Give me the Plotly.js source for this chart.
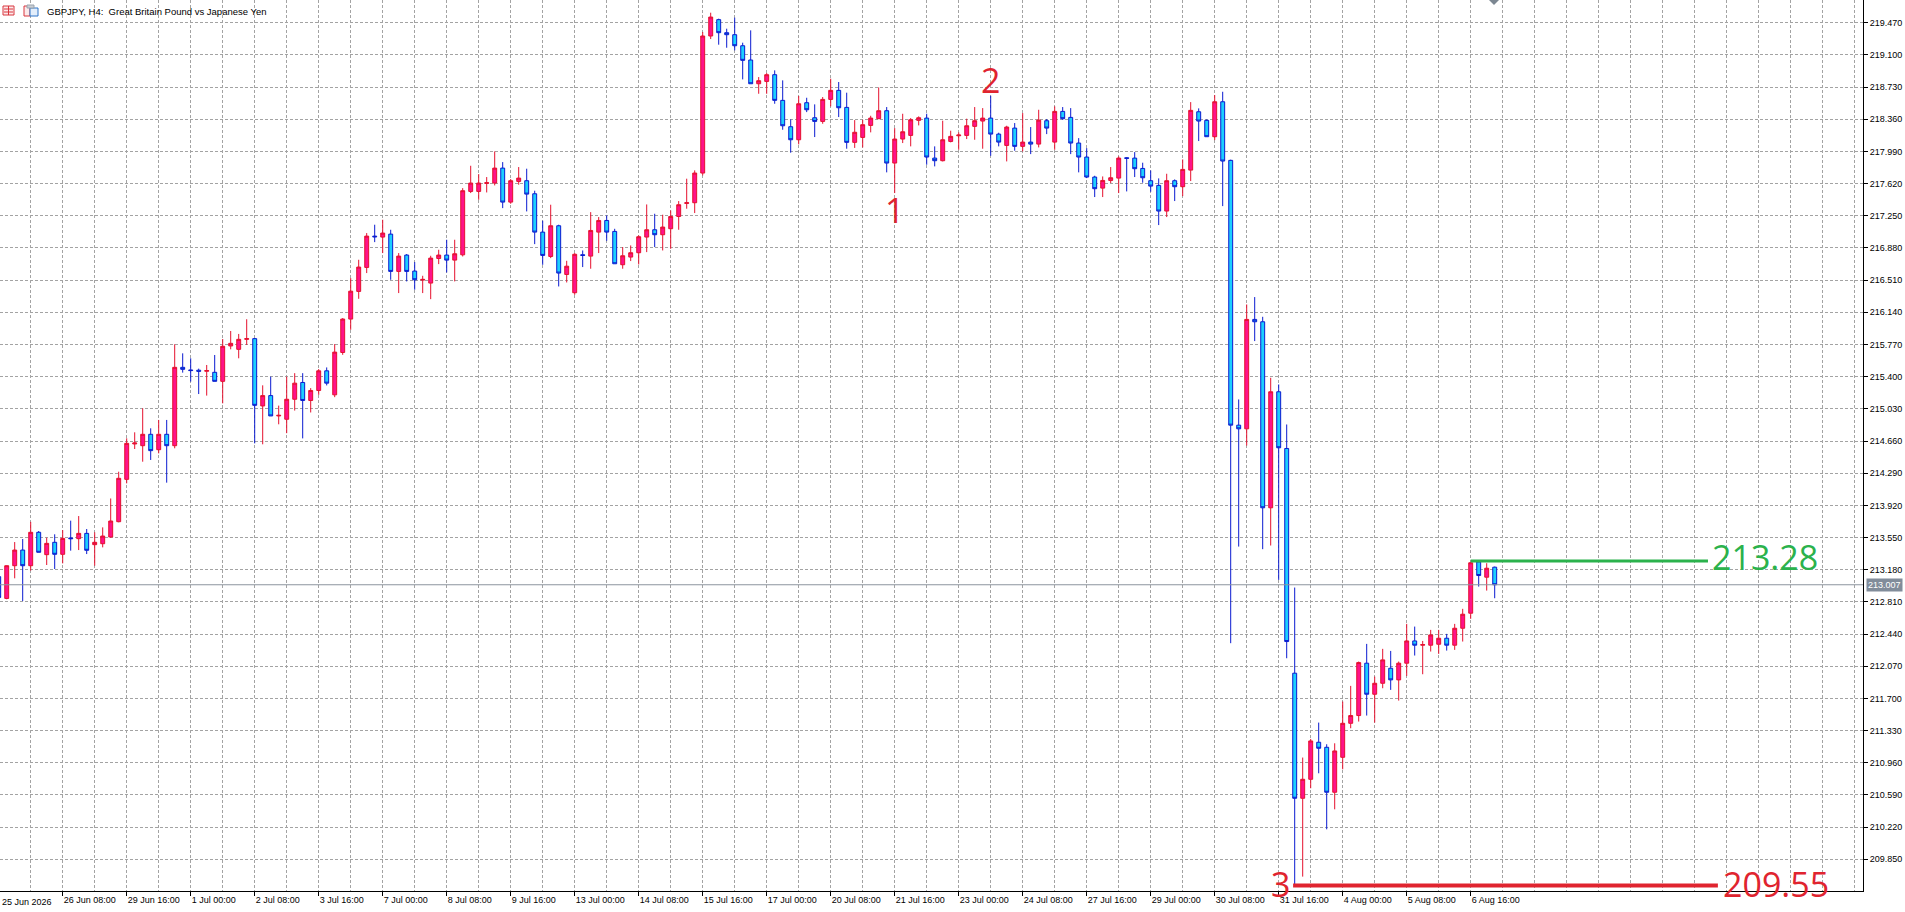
<!DOCTYPE html>
<html>
<head>
<meta charset="utf-8">
<title>GBPJPY H4</title>
<script src="https://cdn.plot.ly/plotly-3.0.1.min.js"></script>
<style>
  html, body { margin: 0; padding: 0; background: #fff; }
  #chart { width: 1905px; height: 912px; }
</style>
</head>
<body>
<div id="chart"></div>
<script>
// GBPJPY H4 bars, 25 Jun 2026 00:00 .. 7 Aug 2026 04:00 (one value per bar)
var symbolTitle = "GBPJPY, H4:  Great Britain Pound vs Japanese Yen";

// time scale labels, one every 8 bars
var timeLabels = ["25 Jun 2026", "26 Jun 08:00", "29 Jun 16:00", "1 Jul 00:00", "2 Jul 08:00",
  "3 Jul 16:00", "7 Jul 00:00", "8 Jul 08:00", "9 Jul 16:00", "13 Jul 00:00", "14 Jul 08:00",
  "15 Jul 16:00", "17 Jul 00:00", "20 Jul 08:00", "21 Jul 16:00", "23 Jul 00:00", "24 Jul 08:00",
  "27 Jul 16:00", "29 Jul 00:00", "30 Jul 08:00", "31 Jul 16:00", "4 Aug 00:00", "5 Aug 08:00",
  "6 Aug 16:00"];

var priceTicks = [209.85, 210.22, 210.59, 210.96, 211.33, 211.70, 212.07, 212.44, 212.81, 213.18,
  213.55, 213.92, 214.29, 214.66, 215.03, 215.40, 215.77, 216.14, 216.51, 216.88, 217.25, 217.62,
  217.99, 218.36, 218.73, 219.10, 219.47];

var openP = [
  213.10, 212.85, 213.226, 213.406, 213.226, 213.61, 213.353, 213.495, 213.357, 213.545,
  213.537, 213.598, 213.468, 213.479, 213.556, 213.732, 214.219, 214.626, 214.606, 214.737,
  214.56, 214.737, 214.606, 215.507, 215.477, 215.474, 215.462, 215.45, 215.346, 215.753,
  215.714, 215.829, 215.837, 215.063, 215.182, 214.948, 214.91, 215.14, 215.333, 215.126,
  215.241, 215.467, 215.191, 215.678, 216.062, 216.38, 216.656, 217.016, 217.005, 217.039,
  216.61, 216.798, 216.614, 216.51, 216.476, 216.759, 216.798, 216.74, 216.801, 217.53,
  217.53, 217.622, 217.626, 217.798, 217.407, 217.645, 217.653, 217.503, 217.062, 216.782,
  217.135, 216.575, 216.365, 216.802, 216.786, 217.062, 217.196, 217.07, 216.687, 216.775,
  216.825, 217.005, 217.089, 217.032, 217.101, 217.242, 217.392, 217.4, 217.741, 219.317,
  219.505, 219.355, 219.332, 219.205, 219.041, 218.768, 218.795, 218.872, 218.577, 218.274,
  218.124, 218.55, 218.377, 218.335, 218.588, 218.692, 218.496, 218.094, 218.151, 218.289,
  218.366, 218.458, 217.856, 218.132, 218.174, 218.347, 218.373, 217.913, 217.883, 218.105,
  218.17, 218.174, 218.278, 218.339, 218.373, 218.189, 218.059, 218.258, 218.048, 218.097,
  218.074, 218.343, 218.097, 218.45, 218.381, 218.086, 217.925, 217.695, 217.568, 217.656,
  217.683, 217.917, 217.913, 217.794, 217.653, 217.599, 217.304, 217.653, 217.584, 217.775,
  218.446, 218.347, 218.159, 218.561, 217.887, 214.842, 214.8, 216.058, 216.031, 213.892,
  215.226, 214.574, 211.99, 210.552, 210.77, 211.196, 211.138, 210.621, 211.023, 211.414,
  211.503, 212.105, 211.748, 211.874, 212.047, 211.913, 212.105, 212.361, 212.312, 212.312,
  212.323, 212.392, 212.312, 212.507, 212.68, 213.27, 213.094, 213.209];

var highP = [
  213.20, 213.23, 213.498, 213.533, 213.73, 213.625, 213.548, 213.587, 213.636, 213.744,
  213.797, 213.648, 213.61, 213.667, 213.999, 214.307, 214.691, 214.76, 215.036, 214.806,
  214.902, 214.902, 215.772, 215.668, 215.611, 215.492, 215.534, 215.649, 215.833, 215.925,
  215.891, 216.06, 215.845, 215.3, 215.4, 215.067, 215.4, 215.44, 215.44, 215.268,
  215.487, 215.506, 215.774, 216.073, 216.533, 216.744, 217.051, 217.147, 217.204, 217.089,
  216.821, 216.81, 216.717, 216.56, 216.79, 216.859, 216.974, 216.974, 217.568, 217.825,
  217.729, 217.695, 217.99, 217.867, 217.672, 217.81, 217.791, 217.538, 217.193, 217.377,
  217.147, 216.732, 216.821, 216.851, 217.292, 217.235, 217.254, 217.1, 216.89, 216.909,
  217.024, 217.38, 217.273, 217.262, 217.311, 217.419, 217.676, 217.772, 219.363, 219.585,
  219.516, 219.401, 219.528, 219.24, 219.382, 218.845, 218.891, 218.922, 218.807, 218.358,
  218.627, 218.607, 218.531, 218.615, 218.826, 218.788, 218.665, 218.35, 218.354, 218.4,
  218.726, 218.5, 218.258, 218.423, 218.373, 218.393, 218.423, 218.048, 218.343, 218.228,
  218.209, 218.366, 218.5, 218.488, 218.63, 218.205, 218.285, 218.316, 218.431, 218.27,
  218.469, 218.362, 218.508, 218.5, 218.488, 218.143, 218.028, 217.71, 217.702, 217.81,
  217.933, 217.925, 217.982, 217.86, 217.771, 217.68, 217.733, 217.668, 217.898, 218.557,
  218.485, 218.358, 218.638, 218.676, 217.895, 215.138, 216.23, 216.315, 216.088, 215.387,
  215.31, 214.85, 212.975, 211.02, 211.234, 211.422, 211.173, 211.184, 211.664, 211.844,
  212.124, 212.327, 211.951, 212.27, 212.246, 212.124, 212.557, 212.526, 212.361, 212.488,
  212.488, 212.442, 212.557, 212.73, 213.27, 213.28, 213.255, 213.216];

var lowP = [
  212.80, 212.84, 213.081, 212.82, 213.17, 213.38, 213.234, 213.188, 213.253, 213.399,
  213.406, 213.36, 213.226, 213.437, 213.548, 213.725, 214.173, 214.568, 214.422, 214.442,
  214.518, 214.181, 214.576, 215.446, 215.343, 215.2, 215.182, 215.346, 215.093, 215.714,
  215.611, 215.764, 214.633, 214.622, 214.948, 214.852, 214.75, 215.01, 214.69, 214.988,
  215.191, 215.299, 215.164, 215.651, 215.939, 216.295, 216.591, 216.947, 216.821, 216.514,
  216.361, 216.495, 216.4, 216.361, 216.291, 216.694, 216.598, 216.495, 216.782, 217.511,
  217.434, 217.518, 217.599, 217.338, 217.388, 217.607, 217.3, 216.924, 216.686, 216.763,
  216.437, 216.483, 216.341, 216.66, 216.641, 216.821, 216.962, 216.698, 216.641, 216.729,
  216.69, 216.832, 216.89, 216.851, 216.87, 217.089, 217.331, 217.281, 217.714, 219.282,
  219.217, 219.182, 219.152, 218.818, 218.768, 218.653, 218.653, 218.538, 218.239, 217.975,
  218.071, 218.442, 218.155, 218.308, 218.508, 218.385, 218.021, 218.03, 218.036, 218.209,
  218.366, 217.749, 217.511, 218.086, 218.048, 218.289, 217.837, 217.818, 217.875, 218.094,
  218.009, 218.132, 218.124, 218.021, 217.94, 218.048, 217.875, 217.998, 217.99, 217.959,
  218.036, 218.189, 218.009, 218.354, 217.959, 217.749, 217.683, 217.465, 217.465, 217.626,
  217.511, 217.53, 217.695, 217.63, 217.526, 217.143, 217.235, 217.419, 217.476, 217.649,
  218.109, 218.159, 218.12, 217.361, 212.335, 213.446, 214.608, 215.809, 213.416, 213.458,
  213.063, 212.162, 209.55, 209.651, 210.667, 210.839, 210.195, 210.425, 210.885, 211.357,
  211.434, 211.503, 211.422, 211.817, 211.798, 211.675, 211.959, 212.193, 211.978, 212.239,
  212.212, 212.25, 212.258, 212.354, 212.615, 212.986, 212.94, 212.852];

var closeP = [
  212.86, 213.226, 213.406, 213.226, 213.61, 213.38, 213.483, 213.357, 213.54, 213.537,
  213.598, 213.403, 213.495, 213.567, 213.74, 214.231, 214.633, 214.637, 214.737, 214.549,
  214.737, 214.606, 215.507, 215.484, 215.47, 215.462, 215.47, 215.346, 215.749, 215.783,
  215.829, 215.837, 215.07, 215.182, 214.948, 214.955, 215.14, 215.325, 215.126, 215.241,
  215.467, 215.325, 215.682, 216.062, 216.383, 216.66, 217.016, 217.008, 217.051, 216.61,
  216.786, 216.61, 216.514, 216.518, 216.763, 216.798, 216.74, 216.813, 217.538, 217.626,
  217.626, 217.63, 217.798, 217.407, 217.653, 217.683, 217.499, 217.062, 216.794, 217.135,
  216.591, 216.67, 216.807, 216.794, 217.081, 217.196, 217.062, 216.698, 216.79, 216.825,
  217.009, 217.089, 217.032, 217.12, 217.242, 217.377, 217.4, 217.741, 219.317, 219.535,
  219.355, 219.332, 219.205, 219.037, 218.768, 218.803, 218.872, 218.577, 218.285, 218.124,
  218.538, 218.469, 218.335, 218.588, 218.692, 218.492, 218.094, 218.21, 218.297, 218.373,
  218.458, 217.856, 218.132, 218.216, 218.354, 218.377, 217.925, 217.883, 218.124, 218.163,
  218.178, 218.285, 218.343, 218.373, 218.189, 218.097, 218.27, 218.048, 218.097, 218.074,
  218.35, 218.258, 218.45, 218.366, 218.086, 217.925, 217.695, 217.561, 217.656, 217.687,
  217.913, 217.91, 217.791, 217.687, 217.591, 217.304, 217.653, 217.584, 217.783, 218.462,
  218.339, 218.159, 218.561, 217.879, 214.842, 214.8, 216.058, 216.031, 213.892, 215.226,
  214.582, 212.354, 210.552, 210.77, 211.211, 211.127, 210.621, 211.096, 211.414, 211.503,
  212.112, 211.748, 211.874, 212.143, 211.913, 212.105, 212.361, 212.312, 212.319, 212.43,
  212.392, 212.312, 212.507, 212.668, 213.26, 213.113, 213.197, 213.007];

var lastPrice = 213.007;
var levelHigh = 213.28;   // green level
var levelLow = 209.55;    // red level

// wave counts drawn on the chart
var waveLabels = ["1", "2", "3"];
var waveBars = [112, 124, 161.7];
var wavePrices = [217.317, 218.81, 209.567];

var upLine = '#E5102E', upFill = '#FF1289';
var downLine = '#0B1BD0', downFill = '#1CCFFF';
var green = '#2BB24C', red = '#E0242F';

var bars = openP.map(function (v, i) { return i; });
var tickBars = timeLabels.map(function (t, i) { return i * 8; });

// plot area is 1863 x 891 px, helpers for the decorations in pixels
var PW = 1863, PH = 891;
function px(x) { return x / PW; }
function py(y) { return 1 - y / PH; }

var candles = {
  type: 'candlestick',
  x: bars,
  open: openP,
  high: highP,
  low: lowP,
  close: closeP,
  line: {width: 1},
  whiskerwidth: 0,
  increasing: {line: {color: upLine, width: 1}, fillcolor: upFill},
  decreasing: {line: {color: downLine, width: 1}, fillcolor: downFill},
  hoverinfo: 'skip'
};

var lowBar = lowP.indexOf(Math.min.apply(null, lowP));
var highBar = closeP.length - 4;

var shapes = [
  // current bid line
  {type: 'line', xref: 'paper', x0: 0, x1: 1, yref: 'y', y0: lastPrice, y1: lastPrice,
   line: {color: '#8D949E', width: 1}},
  // levels
  {type: 'line', xref: 'x', x0: highBar, x1: 213.66, yref: 'y', y0: levelHigh, y1: levelHigh,
   line: {color: green, width: 3}},
  {type: 'line', xref: 'x', x0: lowBar - 0.2, x1: 214.9, yref: 'y', y0: levelLow, y1: levelLow,
   line: {color: red, width: 4}},
  // chart shift marker
  {type: 'path', xref: 'paper', yref: 'paper',
   path: 'M ' + px(1489) + ' ' + py(0) + ' L ' + px(1499) + ' ' + py(0) + ' L ' + px(1494) + ' ' + py(5) + ' Z',
   fillcolor: '#7C8792', line: {width: 0}},
  // little window icons in front of the title
  {type: 'rect', xref: 'paper', yref: 'paper', x0: px(3), x1: px(14), y0: py(15), y1: py(6),
   line: {color: '#D9363E', width: 1}, fillcolor: '#FCE9EA'},
  {type: 'line', xref: 'paper', yref: 'paper', x0: px(8.5), x1: px(8.5), y0: py(15), y1: py(6),
   line: {color: '#D9363E', width: 1}},
  {type: 'line', xref: 'paper', yref: 'paper', x0: px(4), x1: px(13), y0: py(9), y1: py(9),
   line: {color: '#D9363E', width: 1}},
  {type: 'line', xref: 'paper', yref: 'paper', x0: px(4), x1: px(13), y0: py(12), y1: py(12),
   line: {color: '#D9363E', width: 1}},
  {type: 'rect', xref: 'paper', yref: 'paper', x0: px(24), x1: px(30), y0: py(16), y1: py(6),
   line: {color: '#D9363E', width: 1}, fillcolor: '#FCE9EA'},
  {type: 'rect', xref: 'paper', yref: 'paper', x0: px(30), x1: px(38), y0: py(16), y1: py(8),
   line: {color: '#2F74C8', width: 1}, fillcolor: '#E3EEFB'},
  {type: 'rect', xref: 'paper', yref: 'paper', x0: px(27), x1: px(34), y0: py(8), y1: py(5),
   line: {color: '#9AA3AD', width: 1}, fillcolor: '#C9CED4'}
];

var annotations = [
  {xref: 'paper', yref: 'paper', x: px(45), y: py(11), xanchor: 'left', yanchor: 'middle',
   text: symbolTitle, showarrow: false,
   font: {family: 'Liberation Sans, Arial, sans-serif', size: 9.5, color: '#000'}},
  // first time label sits left of the visible range
  {xref: 'paper', yref: 'paper', x: 0, y: py(902), xanchor: 'left', yanchor: 'middle',
   text: timeLabels[0], showarrow: false,
   font: {family: 'Liberation Sans, Arial, sans-serif', size: 9, color: '#000'}},
  // bid label on the price scale
  {xref: 'paper', yref: 'y', x: 1, y: lastPrice, xanchor: 'left', yanchor: 'middle', xshift: 3,
   text: lastPrice.toFixed(3), showarrow: false, bgcolor: '#818C9A', borderpad: 1,
   font: {family: 'Liberation Sans, Arial, sans-serif', size: 9, color: '#fff'}},
  {xref: 'x', yref: 'y', x: 213.9, y: 213.327, xanchor: 'left', yanchor: 'middle',
   text: levelHigh.toFixed(2), showarrow: false,
   font: {family: 'Open Sans, sans-serif', size: 34, color: green}},
  {xref: 'x', yref: 'y', x: 215.3, y: 209.567, xanchor: 'left', yanchor: 'middle',
   text: levelLow.toFixed(2), showarrow: false,
   font: {family: 'Open Sans, sans-serif', size: 34, color: red}}
];

waveLabels.forEach(function (t, i) {
  annotations.push({
    xref: 'x', yref: 'y', x: waveBars[i], y: wavePrices[i],
    xanchor: i === 2 ? 'right' : 'center', yanchor: 'middle',
    text: t, showarrow: false,
    font: {family: 'Open Sans, sans-serif', size: 34, color: red}
  });
});

var gridStyle = {color: '#A3A3A3', dash: '3px,2px'};

var layout = {
  width: 1905,
  height: 912,
  margin: {l: 0, r: 42, t: 0, b: 21, pad: 0},
  paper_bgcolor: '#ffffff',
  plot_bgcolor: '#ffffff',
  showlegend: false,
  hovermode: false,
  dragmode: false,
  xaxis: {
    range: [0.1625, 233.0375],
    autorange: false,
    rangeslider: {visible: false},
    tickmode: 'array',
    tickvals: tickBars,
    ticktext: timeLabels,
    ticks: 'outside',
    ticklen: 4,
    tickcolor: '#000',
    ticklabelposition: 'outside right',
    tickfont: {family: 'Liberation Sans, Arial, sans-serif', size: 9, color: '#000'},
    showgrid: true,
    gridcolor: gridStyle.color,
    griddash: gridStyle.dash,
    gridwidth: 1,
    minor: {tickmode: 'linear', tick0: 0, dtick: 4, showgrid: true, ticks: '',
            gridcolor: gridStyle.color, griddash: gridStyle.dash, gridwidth: 1},
    showline: true,
    linecolor: '#000',
    linewidth: 1,
    zeroline: false
  },
  yaxis: {
    side: 'right',
    range: [209.4855, 219.731],
    autorange: false,
    tickmode: 'array',
    tickvals: priceTicks,
    tickformat: '.3f',
    ticks: 'outside',
    ticklen: 4,
    tickcolor: '#000',
    tickfont: {family: 'Liberation Sans, Arial, sans-serif', size: 9, color: '#000'},
    showgrid: true,
    gridcolor: gridStyle.color,
    griddash: gridStyle.dash,
    gridwidth: 1,
    showline: true,
    linecolor: '#000',
    linewidth: 1,
    zeroline: false
  },
  shapes: shapes,
  annotations: annotations
};

Plotly.newPlot('chart', [candles], layout, {staticPlot: true, displayModeBar: false});
</script>
</body>
</html>
